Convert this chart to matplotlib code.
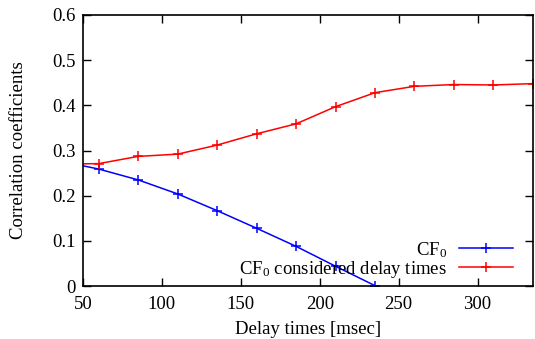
import matplotlib
matplotlib.use("Agg")
import matplotlib.pyplot as plt

plt.rcParams["font.family"] = ["Liberation Serif", "DejaVu Serif"]
plt.rcParams["mathtext.fontset"] = "custom"
plt.rcParams["mathtext.rm"] = "Liberation Serif"
plt.rcParams["mathtext.it"] = "Liberation Serif:italic"

# delay times [msec]; first point lies left of the visible range (clipped)
blue_x = [35, 60, 85, 110, 135, 160, 185, 210, 235]
blue_y = [0.277, 0.259, 0.235, 0.204, 0.167, 0.128, 0.088, 0.044, 0.001]
red_x = [35, 60, 85, 110, 135, 160, 185, 210, 235, 260, 285, 310, 335]
red_y = [0.270, 0.271, 0.287, 0.292, 0.312, 0.337, 0.359, 0.397, 0.428,
         0.442, 0.446, 0.445, 0.448]
xticks = [50, 100, 150, 200, 250, 300]
yticks = [0, 0.1, 0.2, 0.3, 0.4, 0.5, 0.6]
ytick_labels = ["0", "0.1", "0.2", "0.3", "0.4", "0.5", "0.6"]

FS = 13.5

fig = plt.figure(figsize=(5.35, 3.39), dpi=100)
ax = fig.add_axes([0.155, 0.156, 0.841, 0.8])

ax.plot(blue_x, blue_y, color="#0000ff", lw=1.1, marker="+", ms=6.5, mew=1.1,
        label="CF$_0$")
ax.plot(red_x, red_y, color="#ff0000", lw=1.1, marker="+", ms=6.5, mew=1.1,
        label="CF$_0$ considered delay times")

ax.set_xlim(50, 335)
ax.set_ylim(0, 0.6)
ax.set_xticks(xticks)
ax.set_yticks(yticks)
ax.set_yticklabels(ytick_labels)
ax.tick_params(axis="y", direction="in", length=6, width=1, right=True,
               labelsize=FS, pad=5)
ax.tick_params(axis="x", direction="in", length=6, width=1, top=True,
               labelsize=FS, pad=7)
for s in ax.spines.values():
    s.set_linewidth(1.2)

ax.set_xlabel("Delay times [msec]", fontsize=FS, labelpad=6)
ax.set_ylabel("Correlation coefficients", fontsize=FS, labelpad=18)

ax.legend(loc="lower right", bbox_to_anchor=(0.985, -0.025), frameon=False,
          markerfirst=False, fontsize=FS, handlelength=2.9,
          labelspacing=-0.05, borderaxespad=0.3, handletextpad=0.6)

fig.savefig("out.png", dpi=100)
